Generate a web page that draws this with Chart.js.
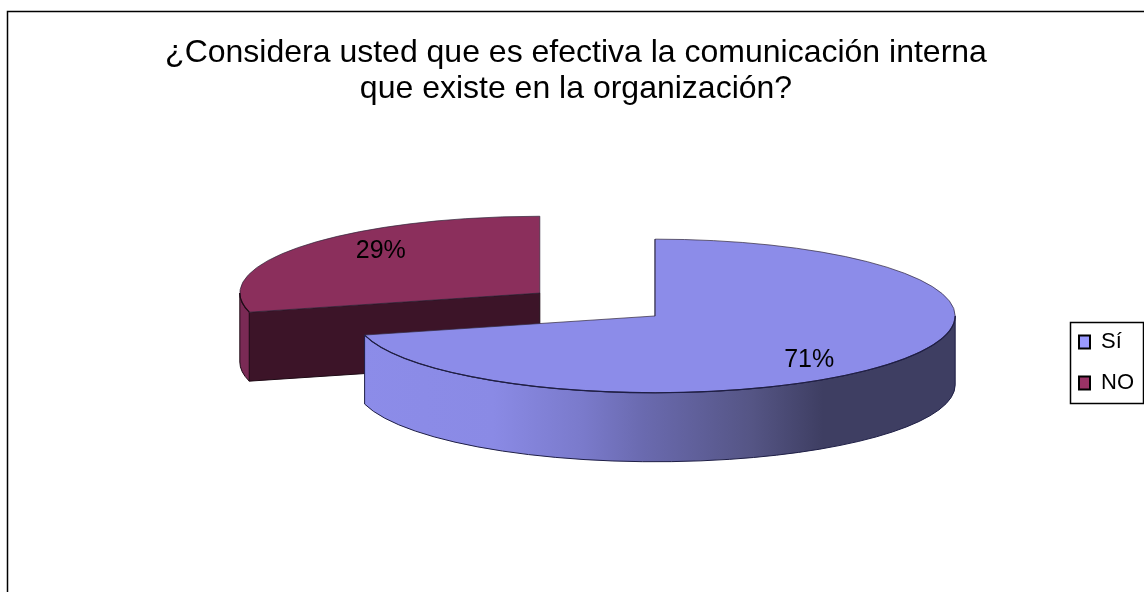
<!DOCTYPE html>
<html lang="es">
<head>
<meta charset="utf-8">
<title>Comunicación interna</title>
<script src="https://cdn.jsdelivr.net/npm/chart.js@4"></script>
<style>
    html, body { margin: 0; padding: 0; background: #fff; overflow: hidden; }
    canvas { display: block; }
</style>
</head>
<body>
<canvas id="myChart" width="1144" height="592"></canvas>
<script>
const categories = ['Sí', 'NO'];
const values = [71, 29];
const titleLines = [
    '¿Considera usted que es efectiva la comunicación interna',
    'que existe en la organización?'
];

const topColors = ['#8c8ce9', '#8b2f5c'];
const legendColors = ['#9999ff', '#993366'];
const rimColors = [null, '#7a2a55'];
const wallColors = ['#3e3e62', '#3c1428'];
const edgeColors = ['#1e1e45', '#1e0a15'];

// horizontal shading along the outer wall of the large slice
const rimStops = [
    [0, '#8c8ce9'], [0.23, '#8a8ae5'], [0.38, '#7a7acb'], [0.48, '#6a6aaf'],
    [0.66, '#555585'], [0.78, '#3e3e62'], [1, '#3e3e62']
];

const pieCenter = { x: 597.5, y: 304.5 };
const pieRadius = 300;
const tilt = 0.256;
const depth = 69;
const explode = 73;
const labelOffsets = [[154, 44], [-159, -42]];
const legendBox = { x: 1070, y: 322, w: 73, h: 81 };
const legendPadding = 19;

function applyTilt(chart) {
    const ctx = chart.ctx;
    const area = chart.chartArea;
    ctx.translate(pieCenter.x, pieCenter.y);
    ctx.scale(1, tilt);
    ctx.translate(-(area.left + area.right) / 2, -(area.top + area.bottom) / 2);
}

function strokeFlat(ctx, color, width) {
    // stroke in page space so the tilt does not squash the line
    ctx.save();
    ctx.setTransform(1, 0, 0, 1, 0, 0);
    ctx.strokeStyle = color;
    ctx.lineWidth = width;
    ctx.stroke();
    ctx.restore();
}

function rimPath(ctx, arc, drop) {
    const from = Math.max(arc.startAngle, 0);
    const to = Math.min(arc.endAngle, Math.PI);
    ctx.beginPath();
    ctx.arc(arc.x, arc.y, arc.outerRadius, from, to);
    ctx.arc(arc.x, arc.y + drop, arc.outerRadius, to, from, true);
    ctx.closePath();
}

function wallPath(ctx, arc, drop) {
    const ex = arc.x + Math.cos(arc.startAngle) * arc.outerRadius;
    const ey = arc.y + Math.sin(arc.startAngle) * arc.outerRadius;
    ctx.beginPath();
    ctx.moveTo(arc.x, arc.y);
    ctx.lineTo(ex, ey);
    ctx.lineTo(ex, ey + drop);
    ctx.lineTo(arc.x, arc.y + drop);
    ctx.closePath();
}

// exploded slices with a tilted top face and a solid side
const thickPie = {
    id: 'thickPie',
    beforeDraw(chart) {
        const ctx = chart.ctx;
        ctx.save();
        ctx.strokeStyle = '#000';
        ctx.lineWidth = 1.5;
        ctx.strokeRect(7.5, 11.5, 1300, 800);
        ctx.restore();
    },
    afterDatasetsUpdate(chart) {
        chart.getDatasetMeta(0).data.forEach(function(arc) {
            const mid = (arc.startAngle + arc.endAngle) / 2;
            arc.x += Math.cos(mid) * explode;
            arc.y += Math.sin(mid) * explode;
        });
    },
    afterLayout(chart) {
        const legend = chart.legend;
        const width = legend.right - legend.left;
        const height = legend.bottom - legend.top;
        legend.left = legendBox.x + 9 - legendPadding;
        legend.right = legend.left + width;
        legend.top = legendBox.y - 10;
        legend.bottom = legend.top + height;
    },
    beforeDatasetsDraw(chart) {
        const ctx = chart.ctx;
        const arcs = chart.getDatasetMeta(0).data;
        const drop = depth / tilt;
        ctx.save();
        applyTilt(chart);
        // back slice first so the front slice overlaps its wall
        [1, 0].forEach(function(i) {
            const arc = arcs[i];
            wallPath(ctx, arc, drop);
            ctx.fillStyle = wallColors[i];
            ctx.fill();
            strokeFlat(ctx, edgeColors[i], 1);

            rimPath(ctx, arc, drop);
            if (rimColors[i]) {
                ctx.fillStyle = rimColors[i];
            } else {
                const gradient = ctx.createLinearGradient(arc.x - arc.outerRadius, 0, arc.x + arc.outerRadius, 0);
                rimStops.forEach(function(stop) {
                    gradient.addColorStop(stop[0], stop[1]);
                });
                ctx.fillStyle = gradient;
            }
            ctx.fill();
            strokeFlat(ctx, edgeColors[i], 1);
        });
    },
    afterDatasetsDraw(chart) {
        const ctx = chart.ctx;
        const arcs = chart.getDatasetMeta(0).data;
        arcs.forEach(function(arc, i) {
            ctx.beginPath();
            ctx.moveTo(arc.x, arc.y);
            ctx.arc(arc.x, arc.y, arc.outerRadius, arc.startAngle, arc.endAngle);
            ctx.closePath();
            strokeFlat(ctx, 'rgba(50, 40, 60, 0.7)', 1);

            ctx.beginPath();
            ctx.arc(arc.x, arc.y, arc.outerRadius, Math.max(arc.startAngle, 0), Math.min(arc.endAngle, Math.PI));
            strokeFlat(ctx, edgeColors[i], 1.2);
        });
        ctx.restore();

        // percentage labels sit on the top faces
        const area = chart.chartArea;
        ctx.save();
        ctx.fillStyle = '#000';
        ctx.font = '25px "Liberation Sans", Arial, sans-serif';
        ctx.textAlign = 'center';
        ctx.textBaseline = 'middle';
        arcs.forEach(function(arc, i) {
            const cx = pieCenter.x + arc.x - (area.left + area.right) / 2;
            const cy = pieCenter.y + (arc.y - (area.top + area.bottom) / 2) * tilt;
            ctx.fillText(values[i] + '%', cx + labelOffsets[i][0], cy + labelOffsets[i][1]);
        });
        ctx.restore();
    },
    afterDraw(chart) {
        const ctx = chart.ctx;
        ctx.save();
        ctx.strokeStyle = '#000';
        ctx.lineWidth = 1.5;
        ctx.strokeRect(legendBox.x + 0.5, legendBox.y + 0.5, legendBox.w, legendBox.h);
        ctx.restore();
    }
};

new Chart(document.getElementById('myChart'), {
    type: 'pie',
    data: {
        labels: categories,
        datasets: [{
            data: values,
            backgroundColor: topColors,
            borderWidth: 0,
            radius: pieRadius,
            clip: false
        }]
    },
    options: {
        responsive: false,
        animation: false,
        layout: {
            padding: { left: 8 }
        },
        plugins: {
            title: {
                display: true,
                text: titleLines,
                color: '#000',
                font: {
                    family: '"Liberation Sans", Arial, sans-serif',
                    size: 32,
                    weight: 'normal',
                    lineHeight: 1.13
                },
                padding: { top: 35, bottom: 10 }
            },
            legend: {
                position: 'right',
                align: 'start',
                labels: {
                    color: '#000',
                    boxWidth: 11,
                    boxHeight: 13,
                    padding: legendPadding,
                    font: {
                        family: '"Liberation Sans", Arial, sans-serif',
                        size: 22
                    },
                    generateLabels: function() {
                        return categories.map(function(name, i) {
                            return {
                                text: name,
                                fillStyle: legendColors[i],
                                strokeStyle: '#000',
                                lineWidth: 2,
                                index: i
                            };
                        });
                    }
                }
            },
            tooltip: {
                enabled: false
            }
        }
    },
    plugins: [thickPie]
});
</script>
</body>
</html>
